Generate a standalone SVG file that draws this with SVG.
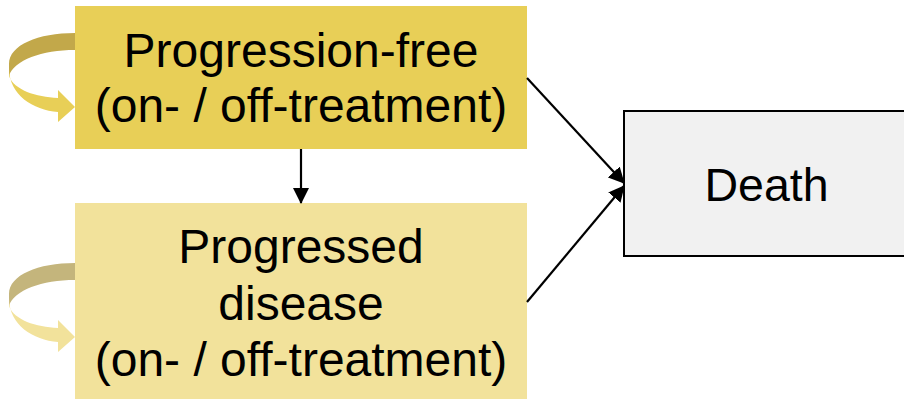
<svg xmlns="http://www.w3.org/2000/svg" width="904" height="399" viewBox="0 0 904 399">
<defs>
<style>
.t{font-family:"Liberation Sans",Arial,sans-serif;font-size:48px;fill:#000;text-anchor:middle}
.c{stroke:#000;stroke-width:2.2;fill:none}
</style>
<marker id="ah2" markerWidth="16" markerHeight="16" refX="15" refY="8" orient="auto" markerUnits="userSpaceOnUse" viewBox="0 0 16 16">
<path d="M0,0 L16,8 L0,16 Z" fill="#000"/>
</marker>
</defs>
<rect width="904" height="399" fill="#fff"/>
<g id="node-pf">
<rect x="75" y="6" width="452" height="143" fill="#E8CF57"/>
<text class="t" x="301" y="67">Progression-free</text>
<text class="t" x="301" y="122">(on- / off-treatment)</text>
</g>
<g id="node-pd">
<rect x="75" y="203" width="452" height="196" fill="#F2E29B"/>
<text class="t" x="301" y="263">Progressed</text>
<text class="t" x="301" y="320">disease</text>
<text class="t" x="301" y="376">(on- / off-treatment)</text>
</g>
<g id="node-death">
<rect x="624" y="111" width="290" height="145" fill="#F1F1F1" stroke="#000" stroke-width="2"/>
<text class="t" x="766.5" y="201" style="font-size:46.5px">Death</text>
</g>
<g id="loop-pf">
<path d="M75,33 C38,33 9,45 9,64 L9,76 C14,60 42,50 75,50 Z" fill="#C2A84A"/>
<path d="M9,68 C9,95 33,110 58,112 L58,122 L75,107 L58,90 L58,98 C36,97 14,90 9,76 Z" fill="#E8CF57"/>
</g>
<g id="loop-pd">
<path d="M75,263 C38,263 9,275 9,294 L9,306 C14,290 42,280 75,280 Z" fill="#C4B57C"/>
<path d="M9,298 C9,325 33,340 58,342 L58,352 L75,337 L58,320 L58,328 C36,327 14,320 9,306 Z" fill="#F2E29B"/>
</g>
<g id="connectors">
<line class="c" x1="301" y1="149" x2="301" y2="203" marker-end="url(#ah2)"/>
<line class="c" x1="527" y1="78" x2="624" y2="183" marker-end="url(#ah2)"/>
<line class="c" x1="527" y1="302" x2="624" y2="186" marker-end="url(#ah2)"/>
</g>
</svg>
